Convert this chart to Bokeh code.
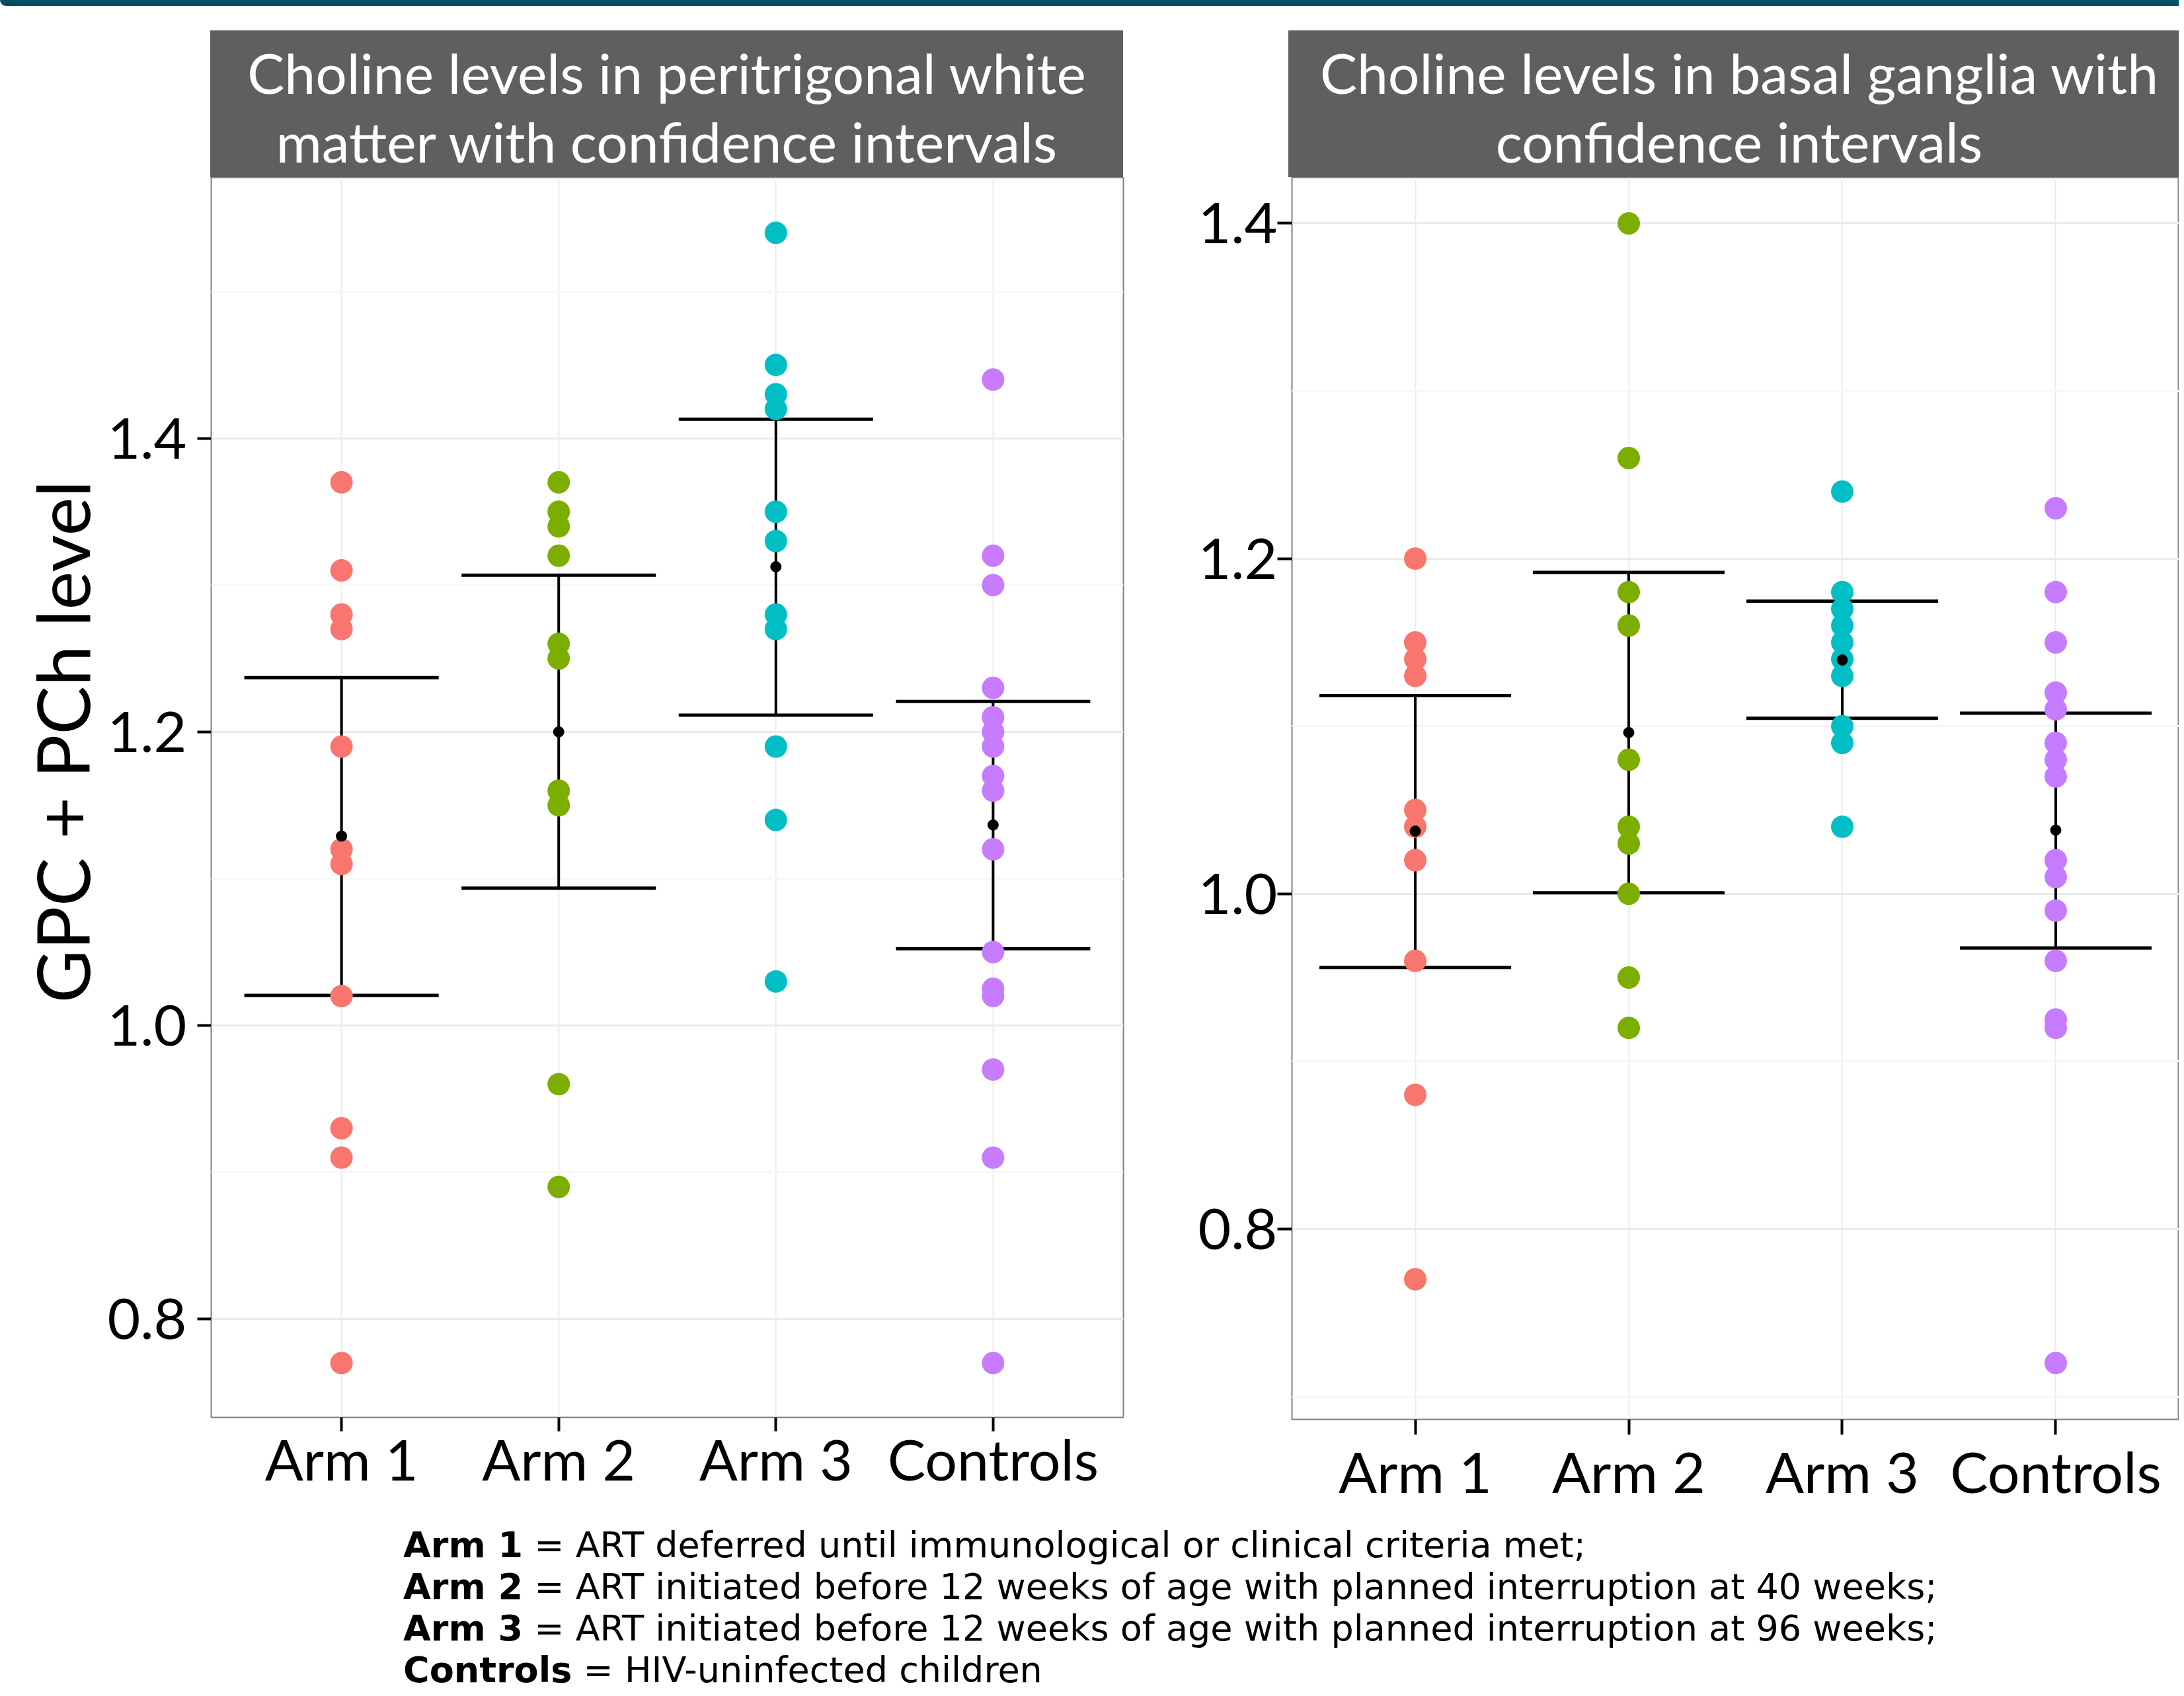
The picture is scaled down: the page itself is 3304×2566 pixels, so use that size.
from bokeh.plotting import figure
from bokeh.models import (ColumnDataSource, Range1d, FactorRange, FixedTicker,
                          PrintfTickFormatter, Whisker, TeeHead, Div)
from bokeh.layouts import column, row
from bokeh.embed import file_html
from bokeh.resources import INLINE

# ---------------- data ----------------
categories = ["Arm 1", "Arm 2", "Arm 3", "Controls"]
group_colors = ["#F8766D", "#7CAE00", "#00BFC4", "#C77CFF"]

# Panel 1: peritrigonal white matter
wm_arm1 = [1.37, 1.31, 1.28, 1.27, 1.19, 1.12, 1.11, 1.02, 0.93, 0.91, 0.77]
wm_arm2 = [1.37, 1.35, 1.34, 1.32, 1.26, 1.25, 1.16, 1.15, 0.96, 0.89]
wm_arm3 = [1.54, 1.45, 1.43, 1.42, 1.35, 1.33, 1.28, 1.27, 1.19, 1.14, 1.03]
wm_controls = [1.44, 1.32, 1.30, 1.23, 1.21, 1.20, 1.19, 1.17, 1.16, 1.12,
               1.05, 1.025, 1.02, 0.97, 0.91, 0.77]
wm_mean = [1.129, 1.200, 1.3125, 1.1366]
wm_lower = [1.0205, 1.0936, 1.2114, 1.0522]
wm_upper = [1.237, 1.3068, 1.413, 1.2207]

# Panel 2: basal ganglia
bg_arm1 = [1.20, 1.15, 1.14, 1.13, 1.05, 1.04, 1.02, 0.96, 0.88, 0.77]
bg_arm2 = [1.40, 1.26, 1.18, 1.16, 1.08, 1.04, 1.03, 1.00, 0.95, 0.92]
bg_arm3 = [1.24, 1.18, 1.17, 1.16, 1.15, 1.14, 1.13, 1.10, 1.09, 1.04]
bg_controls = [1.23, 1.18, 1.15, 1.12, 1.11, 1.09, 1.08, 1.07, 1.02, 1.01,
               0.99, 0.96, 0.925, 0.92, 0.72]
bg_mean = [1.0374, 1.0962, 1.1395, 1.038]
bg_lower = [0.956, 1.0006, 1.1047, 0.9677]
bg_upper = [1.1182, 1.1918, 1.1746, 1.1078]

y_ticks = [0.8, 1.0, 1.2, 1.4]
wm_minor_ticks = [0.9, 1.1, 1.3, 1.5]
bg_minor_ticks = [0.7, 0.9, 1.1, 1.3]

wm_title = ["Choline levels in peritrigonal white", "matter with confidence intervals"]
bg_title = ["Choline levels in basal ganglia with", "confidence intervals"]
y_label = "\u00a0" * 6 + "GPC + PCh level"

footer_keys = ["Arm 1", "Arm 2", "Arm 3", "Controls"]
footer_texts = [
    "ART deferred until immunological or clinical criteria met;",
    "ART initiated before 12 weeks of age with planned interruption at 40 weeks;",
    "ART initiated before 12 weeks of age with planned interruption at 96 weeks;",
    "HIV-uninfected children",
]

FONT = "Lato"
STRIP_BG = "#5F5F5F"


def make_panel(groups, means, lowers, uppers, y_start, y_end, minor_ticks,
               width, height, border_left, border_right, border_bottom,
               cap_size, ylab_standoff, xlab_standoff, tick_len_x, tick_len_y,
               x_pad, ylabel=None):
    p = figure(
        x_range=FactorRange(factors=categories, range_padding=x_pad,
                            range_padding_units="absolute"),
        y_range=Range1d(y_start, y_end),
        width=width, height=height,
        output_backend="svg", toolbar_location=None,
        min_border_left=border_left, min_border_right=border_right,
        min_border_top=0, min_border_bottom=border_bottom,
        background_fill_color="white", border_fill_color="white",
    )
    p.outline_line_color = "#7F7F7F"
    p.outline_line_width = 2

    ticker = FixedTicker(ticks=y_ticks, minor_ticks=minor_ticks)
    p.yaxis[0].ticker = ticker
    p.ygrid[0].ticker = ticker
    p.yaxis.formatter = PrintfTickFormatter(format="%.1f")

    p.xgrid.grid_line_color = "#EBEBEB"
    p.xgrid.grid_line_width = 2
    p.ygrid.grid_line_color = "#EBEBEB"
    p.ygrid.grid_line_width = 3
    p.ygrid.minor_grid_line_color = "#F7F7F7"
    p.ygrid.minor_grid_line_width = 3

    for ax, tl, so in ((p.xaxis, tick_len_x, xlab_standoff),
                       (p.yaxis, tick_len_y, ylab_standoff)):
        ax.axis_line_color = None
        ax.major_tick_out = tl
        ax.major_tick_in = 0
        ax.major_tick_line_color = "black"
        ax.major_tick_line_width = 4
        ax.minor_tick_line_color = None
        ax.major_label_text_font = FONT
        ax.major_label_text_font_size = "86px"
        ax.major_label_text_color = "black"
        ax.major_label_standoff = so

    if ylabel:
        p.yaxis.axis_label = ylabel
        p.yaxis.axis_label_text_font = FONT
        p.yaxis.axis_label_text_font_size = "110px"
        p.yaxis.axis_label_text_font_style = "normal"
        p.yaxis.axis_label_text_color = "black"
        p.yaxis.axis_label_standoff = 0

    cats, vals, cols = [], [], []
    for cat, col, vs in zip(categories, group_colors, groups):
        cats += [cat] * len(vs)
        vals += vs
        cols += [col] * len(vs)
    pts = ColumnDataSource(dict(cat=cats, val=vals, color=cols))
    p.scatter("cat", "val", source=pts, size=34, fill_color="color",
              line_color=None)

    stats = ColumnDataSource(dict(cat=categories, mean=means,
                                  lower=lowers, upper=uppers))
    w = Whisker(source=stats, base="cat", lower="lower", upper="upper",
                line_color="black", line_width=4,
                upper_head=TeeHead(size=cap_size, line_width=5, line_color="black"),
                lower_head=TeeHead(size=cap_size, line_width=5, line_color="black"))
    p.add_layout(w)
    p.scatter("cat", "mean", source=stats, size=16, color="black",
              level="overlay")
    return p


def strip(lines, width, margin_left, pad_left=0):
    html = ('<div style="box-sizing:border-box;width:%dpx;padding-top:12px;'
            'padding-left:%dpx;font-family:Lato;font-size:84px;'
            'line-height:104px;color:white;text-align:center;white-space:nowrap;">'
            % (width, pad_left) + "<br>".join(lines) + "</div>")
    return Div(text=html, width=width, height=222,
               margin=(37, 0, 0, margin_left),
               styles={"background-color": STRIP_BG, "overflow": "hidden"})


left = make_panel([wm_arm1, wm_arm2, wm_arm3, wm_controls],
                  wm_mean, wm_lower, wm_upper, 0.733, 1.5777, wm_minor_ticks,
                  width=1709, height=2022, border_left=319, border_right=10,
                  border_bottom=146, cap_size=294, ylab_standoff=16,
                  xlab_standoff=-11, tick_len_x=21, tick_len_y=21, x_pad=0.1,
                  ylabel=y_label)
right = make_panel([bg_arm1, bg_arm2, bg_arm3, bg_controls],
                   bg_mean, bg_lower, bg_upper, 0.6864, 1.4274, bg_minor_ticks,
                   width=1587, height=2022, border_left=245, border_right=0,
                   border_bottom=143, cap_size=290, ylab_standoff=0,
                   xlab_standoff=3, tick_len_x=23, tick_len_y=22, x_pad=0.0775)

strip_left = strip(wm_title, 1381, 318)
strip_right = strip(bg_title, 1347, 240, pad_left=17)

bar = Div(text="", width=3296, height=9, margin=(0, 0, 0, 0),
          styles={"background-color": "#014D64",
                  "border-bottom-left-radius": "12px"})

footer_html = ('<div style="padding-top:16px;font-family:\'DejaVu Sans\';'
               'font-size:54px;line-height:63px;color:black;white-space:nowrap;">'
               + "<br>".join(f"<b>{k}</b> = {t}" for k, t in zip(footer_keys, footer_texts))
               + "</div>")
footer = Div(text=footer_html, width=2680, height=268, margin=(0, 0, 0, 610),
             styles={"overflow": "hidden"})

layout = column(
    bar,
    row(column(strip_left, left), column(strip_right, right)),
    footer,
)

open("out.html", "w").write(file_html(layout, INLINE))
